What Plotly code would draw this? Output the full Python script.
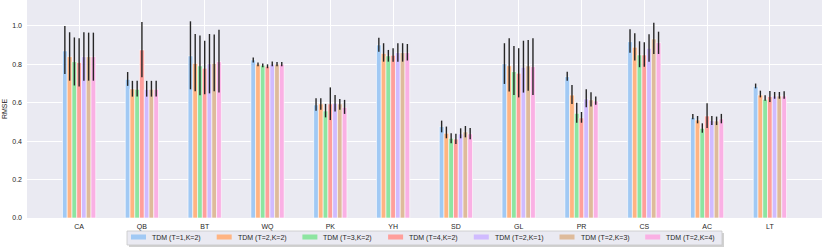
import plotly.graph_objects as go

categories = ["CA", "QB", "BT", "WQ", "PK", "YH", "SD", "GL", "PR", "CS", "AC", "LT"]
series_names = ["TDM (T=1,K=2)", "TDM (T=2,K=2)", "TDM (T=3,K=2)", "TDM (T=4,K=2)",
                "TDM (T=2,K=1)", "TDM (T=2,K=3)", "TDM (T=2,K=4)"]
colors = ["#a1c9f4", "#ffb482", "#8de5a1", "#ff9f9b", "#d0bbff", "#debb9b", "#fab0e4"]

# mean RMSE per series (rows) and category (columns)
s1_mean = [0.870, 0.722, 0.844, 0.823, 0.589, 0.901, 0.476, 0.802, 0.736, 0.918, 0.524, 0.684]
s2_mean = [0.840, 0.672, 0.804, 0.800, 0.594, 0.857, 0.441, 0.793, 0.640, 0.889, 0.510, 0.640]
s3_mean = [0.814, 0.670, 0.792, 0.795, 0.557, 0.844, 0.415, 0.762, 0.545, 0.849, 0.467, 0.618]
s4_mean = [0.810, 0.875, 0.780, 0.790, 0.594, 0.847, 0.411, 0.754, 0.521, 0.849, 0.531, 0.632]
s5_mean = [0.840, 0.670, 0.802, 0.800, 0.597, 0.861, 0.438, 0.785, 0.620, 0.884, 0.507, 0.635]
s6_mean = [0.840, 0.670, 0.804, 0.800, 0.594, 0.861, 0.448, 0.792, 0.615, 0.932, 0.505, 0.635]
s7_mean = [0.840, 0.670, 0.814, 0.800, 0.576, 0.861, 0.438, 0.788, 0.609, 0.913, 0.516, 0.635]

# lower / upper bounds of the error bars
s1_lo = [0.750, 0.688, 0.670, 0.810, 0.559, 0.866, 0.446, 0.698, 0.715, 0.861, 0.514, 0.675]
s1_hi = [1.000, 0.760, 1.024, 0.835, 0.623, 0.938, 0.507, 0.910, 0.762, 0.983, 0.542, 0.700]
s2_lo = [0.715, 0.632, 0.660, 0.790, 0.563, 0.814, 0.415, 0.658, 0.594, 0.820, 0.493, 0.628]
s2_hi = [0.967, 0.714, 0.958, 0.810, 0.623, 0.910, 0.476, 0.936, 0.693, 0.962, 0.531, 0.663]
s3_lo = [0.690, 0.632, 0.639, 0.785, 0.524, 0.814, 0.389, 0.640, 0.496, 0.785, 0.444, 0.611]
s3_hi = [0.940, 0.714, 0.950, 0.805, 0.594, 0.875, 0.441, 0.896, 0.600, 0.920, 0.493, 0.639]
s4_lo = [0.684, 0.733, 0.644, 0.780, 0.510, 0.814, 0.385, 0.628, 0.496, 0.788, 0.469, 0.604]
s4_hi = [0.936, 1.020, 0.923, 0.800, 0.680, 0.884, 0.438, 0.884, 0.552, 0.915, 0.597, 0.661]
s5_lo = [0.715, 0.632, 0.649, 0.790, 0.554, 0.814, 0.415, 0.653, 0.576, 0.814, 0.484, 0.621]
s5_hi = [0.967, 0.714, 0.958, 0.815, 0.640, 0.910, 0.467, 0.923, 0.670, 0.957, 0.531, 0.656]
s6_lo = [0.715, 0.632, 0.660, 0.790, 0.563, 0.814, 0.420, 0.663, 0.580, 0.854, 0.484, 0.621]
s6_hi = [0.965, 0.714, 0.955, 0.812, 0.620, 0.910, 0.479, 0.927, 0.655, 1.016, 0.528, 0.656]
s7_lo = [0.715, 0.632, 0.653, 0.790, 0.542, 0.820, 0.410, 0.640, 0.589, 0.854, 0.493, 0.621]
s7_hi = [0.965, 0.714, 0.980, 0.812, 0.615, 0.906, 0.469, 0.936, 0.632, 0.970, 0.542, 0.660]

y_ticks = [0.0, 0.2, 0.4, 0.6, 0.8, 1.0]

means = [s1_mean, s2_mean, s3_mean, s4_mean, s5_mean, s6_mean, s7_mean]
lows = [s1_lo, s2_lo, s3_lo, s4_lo, s5_lo, s6_lo, s7_lo]
highs = [s1_hi, s2_hi, s3_hi, s4_hi, s5_hi, s6_hi, s7_hi]

FONT = "Liberation Sans, Arial, sans-serif"
W, H = 822, 248
ML, MR, MT, MB = 27, 0, 0, 30
PW, PH = W - ML - MR, H - MT - MB

fig = go.Figure()
for name, col, m, lo, hi in zip(series_names, colors, means, lows, highs):
    fig.add_trace(go.Bar(
        x=categories, y=m, name=name, showlegend=False,
        marker=dict(color=col, line=dict(color="white", width=0.6)),
        error_y=dict(type="data", symmetric=False,
                     array=[h - v for h, v in zip(hi, m)],
                     arrayminus=[v - l for v, l in zip(m, lo)],
                     color="#262626", thickness=1.4, width=0),
    ))

# compact matplotlib-style legend box under the axes (paper coords from pixels)
def px(x):
    return (x - ML) / PW

def py(y):
    return (H - MB - y) / PH

shapes = [
    dict(type="rect", xref="paper", yref="paper", x0=px(129), x1=px(724), y0=py(247), y1=py(233),
         fillcolor="rgba(0,0,0,0.18)", line=dict(width=0), layer="above"),
    dict(type="rect", xref="paper", yref="paper", x0=px(127), x1=px(722), y0=py(245), y1=py(231),
         fillcolor="#eaeaf2", line=dict(color="#c8c8c8", width=0.8), layer="above"),
]
annotations = []
pitch = 85.7
for i, (name, col) in enumerate(zip(series_names, colors)):
    x0 = 131 + i * pitch
    shapes.append(dict(type="rect", xref="paper", yref="paper", x0=px(x0), x1=px(x0 + 15),
                       y0=py(239.5), y1=py(234.5), fillcolor=col, line=dict(width=0), layer="above"))
    annotations.append(dict(xref="paper", yref="paper", x=px(x0 + 19), y=py(237.8),
                            xanchor="left", yanchor="middle", text=name, showarrow=False,
                            font=dict(size=7, family=FONT, color="#262626")))

fig.update_layout(
    width=W, height=H,
    margin=dict(l=ML, r=MR, t=MT, b=MB, autoexpand=False),
    paper_bgcolor="white", plot_bgcolor="#eaeaf2",
    barmode="group", bargap=0.47, bargroupgap=0.0,
    font=dict(family=FONT, size=7, color="#262626"),
    showlegend=False,
    shapes=shapes, annotations=annotations,
)
fig.update_xaxes(range=[-0.83, 11.83], showgrid=True, gridcolor="white", gridwidth=1,
                 ticks="", tickfont=dict(size=7), zeroline=False, showline=False,
                 ticklabelstandoff=3)
fig.update_yaxes(range=[0, 1.135], tickvals=y_ticks, ticktext=[f"{t:.1f}" for t in y_ticks],
                 showgrid=True, gridcolor="white", gridwidth=1, zeroline=False,
                 tickfont=dict(size=7), ticks="", ticklabelstandoff=4,
                 title=dict(text="RMSE", font=dict(size=7), standoff=3))

fig.write_html("out.html", config={"displayModeBar": False},
               post_script="document.body.style.margin='0';document.body.style.overflow='hidden';")
